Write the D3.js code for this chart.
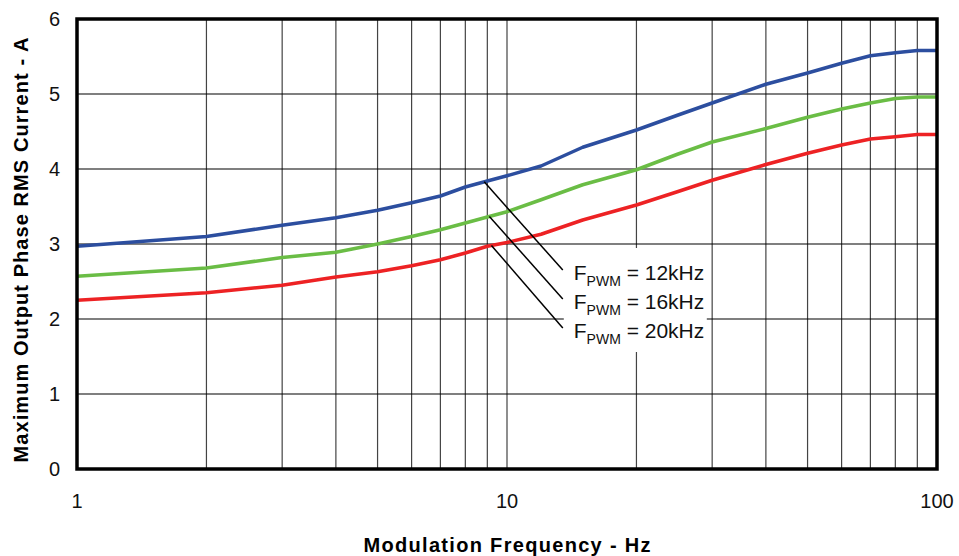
<!DOCTYPE html>
<html>
<head>
<meta charset="utf-8">
<script src="https://cdn.jsdelivr.net/npm/d3@7"></script>
<style>
  body { margin: 0; background: #fff; }
  svg text { font-family: "Liberation Sans", Arial, sans-serif; }
</style>
</head>
<body>
<svg id="chartSVG" width="959" height="556"></svg>
<script>
// modulation frequency (Hz)
var freq = [1, 2, 3, 4, 5, 6, 7, 8, 9, 10, 12, 15, 20, 25, 30, 40, 50, 60, 70, 80, 90, 100];
// max output phase RMS current (A) per PWM frequency
var i12k = [2.97, 3.10, 3.25, 3.35, 3.45, 3.55, 3.64, 3.76, 3.84, 3.91, 4.04, 4.29, 4.52, 4.72, 4.88, 5.13, 5.28, 5.41, 5.51, 5.55, 5.58, 5.58];
var i16k = [2.57, 2.68, 2.82, 2.89, 3.00, 3.10, 3.19, 3.28, 3.36, 3.43, 3.59, 3.79, 3.99, 4.20, 4.36, 4.54, 4.69, 4.80, 4.88, 4.94, 4.96, 4.96];
var i20k = [2.25, 2.35, 2.45, 2.56, 2.63, 2.71, 2.79, 2.88, 2.97, 3.02, 3.13, 3.32, 3.52, 3.70, 3.85, 4.06, 4.21, 4.32, 4.40, 4.43, 4.46, 4.46];

var seriesNames = ["12kHz", "16kHz", "20kHz"];
var seriesColors = ["#2c4e9f", "#6abd45", "#ed2224"];
var xTicks = [1, 10, 100];
var yTicks = [0, 1, 2, 3, 4, 5, 6];
// where each leader line touches its curve (Hz)
var leaderFreq = [8.85, 9.1, 9.2];

var svg = d3.select("#chartSVG"),
    margin = {top: 19, right: 22, bottom: 87, left: 77},
    width = svg.attr("width") - margin.left - margin.right,
    height = svg.attr("height") - margin.top - margin.bottom;

var g = svg.append("g").attr("transform", "translate(" + margin.left + "," + margin.top + ")");

var x = d3.scaleLog().domain([1, 100]).range([0, width]),
    y = d3.scaleLinear().domain([0, 6]).range([height, 0]);

// grid
var minor = [];
[1, 10].forEach(function(dec) {
  for (var k = 2; k <= 9; k++) minor.push(dec * k);
});
minor.push(10);

g.append("g").selectAll("line")
  .data(minor)
  .enter().append("line")
    .attr("x1", function(d) { return x(d); })
    .attr("x2", function(d) { return x(d); })
    .attr("y1", 0).attr("y2", height)
    .attr("stroke", "#444").attr("stroke-width", 1.2);

g.append("g").selectAll("line")
  .data(yTicks.slice(1, -1))
  .enter().append("line")
    .attr("x1", 0).attr("x2", width)
    .attr("y1", function(d) { return y(d); })
    .attr("y2", function(d) { return y(d); })
    .attr("stroke", "#000").attr("stroke-width", 1.2);

// curves
var data = [i12k, i16k, i20k].map(function(vals, s) {
  return { id: seriesNames[s], color: seriesColors[s],
           values: freq.map(function(f, i) { return { f: f, v: vals[i] }; }) };
});

var line = d3.line()
  .x(function(d) { return x(d.f); })
  .y(function(d) { return y(d.v); });

g.selectAll(".ser")
  .data(data)
  .enter().append("path")
    .attr("class", "ser")
    .attr("fill", "none")
    .attr("stroke", function(d) { return d.color; })
    .attr("stroke-width", 3.5)
    .attr("stroke-linejoin", "round")
    .attr("d", function(d) { return line(d.values); });

// annotation box + leaders
var labelX = x(14.3), labelY0 = y(2.52), labelDy = 29;

g.append("rect")
  .attr("x", labelX - 10).attr("y", labelY0 - 32)
  .attr("width", 143).attr("height", 104)
  .attr("fill", "#fff");

data.forEach(function(s, i) {
  var fv = leaderFreq[i];
  var bis = d3.bisector(function(d) { return d.f; }).left(s.values, fv);
  var a = s.values[bis - 1], b = s.values[bis];
  var t = (Math.log(fv) - Math.log(a.f)) / (Math.log(b.f) - Math.log(a.f));
  var vv = a.v + t * (b.v - a.v);
  g.append("line")
    .attr("x1", x(fv)).attr("y1", y(vv))
    .attr("x2", labelX - 11).attr("y2", labelY0 - 10 + i * labelDy)
    .attr("stroke", "#000").attr("stroke-width", 1.5);

  var tx = g.append("text")
    .attr("x", labelX).attr("y", labelY0 + i * labelDy)
    .attr("font-size", 21).attr("fill", "#111");
  tx.append("tspan").text("F");
  tx.append("tspan").attr("font-size", 14).attr("dy", 6).text("PWM");
  tx.append("tspan").attr("dy", -6).text(" = " + s.id);
});

// frame
g.append("rect")
  .attr("x", 0).attr("y", 0).attr("width", width).attr("height", height)
  .attr("fill", "none").attr("stroke", "#000").attr("stroke-width", 3.5);

// tick labels
g.append("g").selectAll("text")
  .data(yTicks)
  .enter().append("text")
    .attr("x", -17).attr("y", function(d) { return y(d); })
    .attr("dy", "0.36em")
    .attr("text-anchor", "end")
    .attr("font-size", 20).attr("fill", "#111")
    .text(function(d) { return d; });

g.append("g").selectAll("text")
  .data(xTicks)
  .enter().append("text")
    .attr("x", function(d) { return x(d); }).attr("y", height + 39)
    .attr("text-anchor", "middle")
    .attr("font-size", 20).attr("fill", "#111")
    .text(function(d) { return d; });

// axis titles
svg.append("text")
  .attr("x", 507).attr("y", 552)
  .attr("text-anchor", "middle")
  .attr("font-size", 20).attr("font-weight", "bold")
  .attr("textLength", 287).attr("lengthAdjust", "spacing")
  .text("Modulation Frequency - Hz");

svg.append("text")
  .attr("transform", "translate(28,250) rotate(-90)")
  .attr("text-anchor", "middle")
  .attr("font-size", 20).attr("font-weight", "bold")
  .attr("textLength", 425).attr("lengthAdjust", "spacing")
  .text("Maximum Output Phase RMS Current - A");
</script>
</body>
</html>
